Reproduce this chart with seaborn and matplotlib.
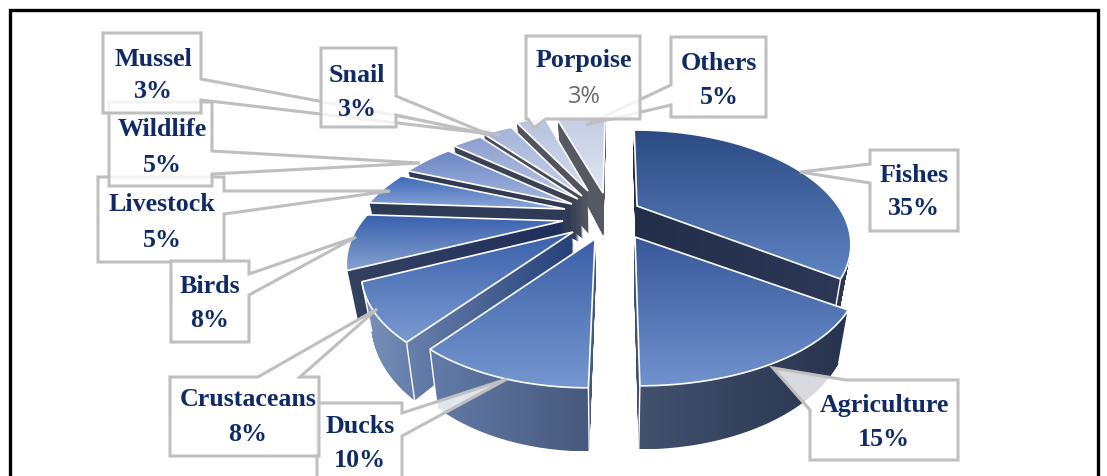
import numpy as np
import matplotlib
matplotlib.use("Agg")
import matplotlib.pyplot as plt
import matplotlib.transforms as mtransforms
from matplotlib.path import Path
import seaborn as sns

categories = ["Fishes", "Agriculture", "Ducks", "Crustaceans", "Birds", "Livestock",
              "Wildlife", "Mussel", "Snail", "Porpoise", "Others"]
shares = [35, 15, 10, 8, 8, 5, 5, 3, 3, 3, 5]

# ---------- layout and style (pixels of the 1107x477 picture) ----------
P, S, R = 0.324, 100.6, 201.0
DEPTH, TILT, CX, VP = 43.0, 0.96, 610.0, 618.0
APEX = {"Fishes": (637, 207), "Agriculture": (635, 238), "Ducks": (595, 240),
        "Crustaceans": (573, 233), "Birds": (563, 222), "Livestock": (565, 210),
        "Wildlife": (572, 205), "Mussel": (578, 200), "Snail": (582, 197),
        "Porpoise": (588, 192), "Others": (603, 194)}
SCALE = {"Agriculture": 1.05, "Crustaceans": 0.98}
TOP = {"Fishes": ("#2b4a82", "#5e84c2"), "Agriculture": ("#38589a", "#7092cd"),
       "Ducks": ("#3c60a6", "#7497d0"), "Crustaceans": ("#3a60aa", "#7a9ad0"),
       "Birds": ("#3860ae", "#88a2d0"), "Livestock": ("#3c66b8", "#8ca7d8"),
       "Wildlife": ("#6a85c4", "#a6b8dd"), "Mussel": ("#8c9ecf", "#bac6e4"),
       "Snail": ("#a4b3da", "#c6d0e7"), "Porpoise": ("#b6c3e0", "#d2daeb"),
       "Others": ("#c4cde3", "#e0e5f2")}
WALL = {"Fishes": ("#232e4a", "#2c3856"), "Agriculture": ("#42526f", "#28334e"),
        "Ducks": ("#627ba8", "#46587a"), "Crustaceans": ("#7a92ba", "#244078"),
        "Birds": ("#34425f", "#1e2f5c"), "Livestock": ("#2e3b56", "#2e3b56"),
        "Wildlife": ("#303b53", "#303b53"), "Mussel": ("#3a4256", "#3a4256"),
        "Snail": ("#464b5a", "#464b5a"), "Porpoise": ("#50545f", "#50545f"),
        "Others": ("#555a62", "#555a62")}
NAVY, EDGE = "#0f2a66", "#bfbfbf"
BOXES = [
    ("Agriculture", (810, 381, 958, 461), [(810, 411), (773, 369), (846, 381)]),
    ("Fishes", (870, 151, 958, 232), [(870, 184), (800, 173), (870, 165)]),
    ("Others", (671, 38, 766, 118), [(671, 106), (586, 126), (671, 86)]),
    ("Porpoise", (526, 37, 640, 120), [(546, 120), (534, 129), (528, 120)]),
    ("Livestock", (98, 178, 224, 263), [(224, 192), (390, 192), (224, 215)]),
    ("Wildlife", (109, 103, 212, 187), [(212, 152), (420, 164), (212, 175)]),
    ("Mussel", (103, 34, 201, 114), [(201, 80), (500, 136), (201, 101)]),
    ("Snail", (321, 49, 396, 128), [(396, 97), (490, 136), (396, 116)]),
    ("Birds", (171, 262, 249, 343), [(249, 275), (356, 238), (249, 296)]),
    ("Ducks", (317, 404, 402, 490), [(402, 414), (507, 380), (402, 437)]),
    ("Crustaceans", (170, 378, 319, 457), [(258, 378), (377, 310), (300, 378)]),
]
TEXT = {"Mussel": (153, 60, 92), "Wildlife": (162, 130, 166), "Livestock": (162, 205, 241),
        "Snail": (357, 75, 109), "Birds": (210, 287, 321), "Crustaceans": (248, 400, 435),
        "Ducks": (360, 427, 461), "Porpoise": (584, 61, 97), "Others": (719, 64, 98),
        "Fishes": (914, 176, 209), "Agriculture": (884, 406, 440)}


class PiePlane(mtransforms.Transform):
    """Maps the unit-disc pie plane to picture pixels, with perspective."""
    input_dims = output_dims = 2
    has_inverse = False
    is_separable = False

    def __init__(self, apex, z=0.0, scale=1.0):
        super().__init__()
        self.apex, self.z, self.scale = apex, z, scale

    def transform_non_affine(self, xy):
        xy = np.asarray(xy, float)
        w = 1 + P * xy[:, 1]
        x = self.apex[0] + self.scale * R * xy[:, 0] / w + 0.6 * (self.apex[0] - VP) * (1 / w - 1)
        y = self.apex[1] - S * xy[:, 1] / w + self.z * DEPTH / w
        x = CX + (x - CX) * (1 - (1 - TILT) * self.z)
        return np.column_stack([x, y])

    def transform_path_non_affine(self, path):
        polys = mtransforms.Affine2D().scale(800).transform_path(path).to_polygons(closed_only=False)
        return Path(self.transform_non_affine(polys[0] / 800), closed=False)


sns.set_theme(style="white")
fig = plt.figure(figsize=(11.07, 4.77), dpi=100)
ax = fig.add_axes([0, 0, 1, 1])

wedges, _ = ax.pie(shares, startangle=90, counterclock=False,
                   wedgeprops=dict(facecolor="none", edgecolor="white", linewidth=1.2))
ax.set_aspect("auto")
ax.set_autoscale_on(False)
ax.set(xlim=(0, 1107), ylim=(477, 0))
ax.set_frame_on(False)
by_name = dict(zip(categories, wedges))
angles = np.cumsum([0] + shares) * 3.6


def gradient(path, colors, horizontal, z):
    xmin, ymin = path.vertices.min(axis=0)
    xmax, ymax = path.vertices.max(axis=0)
    cmap = sns.blend_palette(colors, as_cmap=True)
    g = np.linspace(0, 1, 256)
    g = g[None, :] if horizontal else g[:, None]
    im = ax.imshow(g, cmap=cmap, vmin=0, vmax=1, aspect="auto", origin="upper",
                   extent=(xmin, xmax, ymax, ymin), zorder=z, interpolation="bilinear")
    im.set_clip_path(path, transform=ax.transData)


order = ["Others", "Porpoise", "Snail", "Mussel", "Wildlife", "Livestock", "Birds",
         "Crustaceans", "Ducks", "Fishes", "Agriculture"]
z = 2
for name in order:
    i = categories.index(name)
    w = by_name[name]
    apex = APEX[name]
    sc = SCALE.get(name, 1.0)
    unit = w.get_path()
    layers = [PiePlane(apex, k, sc).transform_path_non_affine(unit)
              for k in np.linspace(0, 1, 50)]
    wall = Path.make_compound_path(*[Path(p.vertices, closed=True) for p in layers])
    gradient(wall, WALL[name], True, z)
    z += 0.1
    for ang in (angles[i], angles[i + 1]):
        if not 100 < ang < 250:
            continue
        tip = np.array([[np.sin(np.radians(ang)), np.cos(np.radians(ang))]])
        a = PiePlane(apex, 0, sc).transform_non_affine(tip)[0]
        b = PiePlane(apex, 1, sc).transform_non_affine(tip)[0]
        ax.plot([a[0], b[0]], [a[1], b[1]], color="white", lw=1.0, zorder=z)
    z += 0.1
    gradient(Path(layers[0].vertices, closed=True), TOP[name], False, z)
    z += 0.1
    w.set_transform(PiePlane(apex, 0, sc) + ax.transData)
    w.set_zorder(z)
    z += 0.1

# callouts
z = 50
for name, (x0, y0, x1, y1), pointer in BOXES:
    if name == "Agriculture":
        pts = [pointer[2], (x1, y0), (x1, y1), (x0, y1), pointer[0], pointer[1]]
    elif name in ("Others", "Fishes"):
        pts = [(x0, y0), (x1, y0), (x1, y1), (x0, y1)] + pointer
    elif name == "Porpoise":
        pts = [(x0, y0), (x1, y0), (x1, y1)] + pointer + [(x0, y1)]
    elif name == "Crustaceans":
        pts = [(x0, y0)] + pointer + [(x1, y0), (x1, y1), (x0, y1)]
    else:
        pts = [(x0, y0), (x1, y0)] + pointer + [(x1, y1), (x0, y1)]
    xs, ys = zip(*pts)
    ax.fill(xs, ys, facecolor=(1, 1, 1, 0.82), edgecolor=EDGE, linewidth=2.2,
            joinstyle="miter", zorder=z)
    z += 1

for name, share in zip(categories, shares):
    x, y1, y2 = TEXT[name]
    ax.text(x, y1, name, ha="center", va="center", color=NAVY, fontsize=18.7,
            family="Liberation Serif", weight="bold", zorder=90)
    if name == "Porpoise":
        ax.text(x, y2, f"{share}%", ha="center", va="center", color="#6a6a6a",
                fontsize=17, family="Open Sans", zorder=90)
    else:
        ax.text(x, y2, f"{share}%", ha="center", va="center", color=NAVY, fontsize=18.7,
                family="Liberation Serif", weight="bold", zorder=90)

# outer frame, open at the bottom
ax.plot([9.5, 9.5, 1098, 1098], [477, 11, 11, 477], color="black", lw=2.4,
        solid_joinstyle="miter", zorder=95)

fig.savefig("out.png", dpi=100)
